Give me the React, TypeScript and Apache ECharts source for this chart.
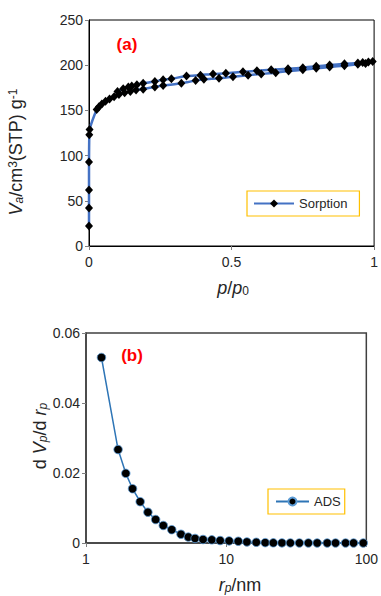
import React, { useEffect, useRef } from 'react';
import * as echarts from 'echarts';

// Panel (a): sorption isotherm (relative pressure p/p0, adsorbed volume)
const adsP = [0, 0, 0, 0, 0.001, 0.002, 0.027, 0.035, 0.045, 0.058, 0.072, 0.088, 0.105, 0.125, 0.145, 0.165, 0.19, 0.231, 0.26, 0.324, 0.374, 0.403, 0.456, 0.505, 0.558, 0.604, 0.655, 0.7, 0.75, 0.797, 0.844, 0.896, 0.943, 0.97, 0.995];
const adsV = [22, 42, 62, 93, 123, 129, 151, 154, 157, 160, 162.5, 165, 167.5, 169.5, 171, 172.5, 173.5, 176, 177.5, 180, 183, 184.4, 185.5, 187.3, 189, 190.3, 191.7, 193.5, 195, 196.5, 198, 199.5, 201, 202, 204];
const desP = [0.98, 0.96, 0.943, 0.896, 0.844, 0.797, 0.75, 0.698, 0.639, 0.589, 0.54, 0.48, 0.435, 0.391, 0.342, 0.289, 0.26, 0.231, 0.19, 0.168, 0.15, 0.138, 0.12, 0.1];
const desV = [203.5, 203, 202.5, 201.5, 200.2, 198.8, 197.2, 196, 195, 193.8, 192.8, 191, 190.3, 189, 188, 185, 184, 182, 180, 178.5, 177, 176, 174, 171];

// Panel (b): pore size distribution
const poreR = [1.289, 1.694, 1.923, 2.148, 2.435, 2.765, 3.14, 3.56, 4.09, 4.76, 5.37, 6.0, 6.84, 7.9, 9.06, 10.5, 12.2, 14.06, 16.4, 19.0, 21.7, 25.0, 28.7, 33.3, 38.6, 44.6, 52.6, 60.3, 71.1, 81.1, 95.1];
const dVdr = [0.053, 0.0267, 0.0199, 0.0155, 0.0118, 0.0088, 0.0067, 0.005, 0.0038, 0.0025, 0.0017, 0.0013, 0.001, 0.0009, 0.0007, 0.0006, 0.0005, 0.0003, 0.0002, 0.0001, 0.00005, 0.00003, 0.00002, 0.00001, 0.00001, 0, 0, 0, 0, 0, 0];

const FONT = '"Liberation Sans", Arial, Helvetica, sans-serif';
const TXT = '#262626';

const subStyle = (italic: boolean) => ({ fontSize: 12, fontFamily: FONT, fontStyle: italic ? 'italic' : 'normal', fill: TXT, verticalAlign: 'bottom' });
const supStyle = { fontSize: 12, fontFamily: FONT, fill: TXT, verticalAlign: 'top' };
const italStyle = { fontSize: 18, fontFamily: FONT, fontStyle: 'italic', fill: TXT };

export default function App() {
  const ref = useRef<HTMLDivElement>(null);
  useEffect(() => {
    const chart = echarts.init(ref.current!, null, { renderer: 'svg' });
    const isoData = [
      ...adsP.map((p, i) => [p, adsV[i]]),
      ...desP.map((p, i) => [p, desV[i]]),
    ];
    const psdData = poreR.map((r, i) => [r, dVdr[i]]);
    const axisLabel = { fontSize: 14, color: TXT, fontFamily: FONT };
    chart.setOption({
      animation: false,
      backgroundColor: '#ffffff',
      grid: [
        { left: 89, top: 20, width: 286, height: 226, show: true, borderColor: '#000', borderWidth: 1, backgroundColor: 'transparent' },
        { left: 86, top: 333, width: 281, height: 210, show: true, borderColor: '#404040', borderWidth: 1.5, backgroundColor: 'transparent' },
      ],
      xAxis: [
        {
          gridIndex: 0, type: 'value', min: 0, max: 1, interval: 0.5,
          axisLine: { show: true, onZero: false, lineStyle: { color: '#000', width: 1 } },
          axisTick: { show: true, length: 4, lineStyle: { color: '#808080' } },
          splitLine: { show: false },
          axisLabel: { ...axisLabel, margin: 9, formatter: (v: number) => String(v) },
        },
        {
          gridIndex: 1, type: 'log', logBase: 10, min: 1, max: 100,
          axisLine: { show: true, onZero: false, lineStyle: { color: '#404040', width: 1.5 } },
          axisTick: { show: true, length: 4, lineStyle: { color: '#808080' } },
          minorTick: { show: false },
          splitLine: { show: false },
          axisLabel: { ...axisLabel, margin: 9 },
        },
      ],
      yAxis: [
        {
          gridIndex: 0, type: 'value', min: 0, max: 250, interval: 50,
          axisLine: { show: true, onZero: false, lineStyle: { color: '#000', width: 1 } },
          axisTick: { show: true, length: 4, lineStyle: { color: '#808080' } },
          splitLine: { show: false },
          axisLabel: { ...axisLabel, margin: 6 },
        },
        {
          gridIndex: 1, type: 'value', min: 0, max: 0.06, interval: 0.02,
          axisLine: { show: true, onZero: false, lineStyle: { color: '#404040', width: 1.5 } },
          axisTick: { show: true, length: 4, lineStyle: { color: '#808080' } },
          splitLine: { show: false },
          axisLabel: { ...axisLabel, margin: 6, formatter: (v: number) => String(Math.round(v * 100) / 100) },
        },
      ],
      legend: [
        {
          data: ['Sorption'], left: 247, top: 191, itemWidth: 40, itemHeight: 10, itemGap: 5,
          padding: [6, 12, 6, 6], borderColor: '#FFC000', borderWidth: 1.2, backgroundColor: '#fff',
          textStyle: { fontSize: 13, color: TXT, fontFamily: FONT },
        },
        {
          data: ['ADS'], left: 268, top: 489, itemWidth: 33, itemHeight: 10, itemGap: 5,
          padding: [6, 4, 6, 7], borderColor: '#FFC000', borderWidth: 1.2, backgroundColor: '#fff',
          textStyle: { fontSize: 13, color: TXT, fontFamily: FONT },
        },
      ],
      series: [
        {
          type: 'line', name: 'Sorption', xAxisIndex: 0, yAxisIndex: 0, data: isoData,
          symbol: 'diamond', symbolSize: [8, 9], smooth: 0.2,
          lineStyle: { color: '#4472C4', width: 2.5 },
          itemStyle: { color: '#000' },
        },
        {
          type: 'line', name: 'ADS', xAxisIndex: 1, yAxisIndex: 1, data: psdData,
          symbol: 'circle', symbolSize: 8.5, smooth: false,
          lineStyle: { color: '#2E75B6', width: 1.5 },
          itemStyle: { color: '#000', borderColor: '#5B9BD5', borderWidth: 0.8 },
        },
      ],
      graphic: [
        { type: 'text', x: 127, y: 44, style: { text: '(a)', fill: '#FF0000', fontSize: 17, fontWeight: 'bold', fontFamily: FONT, align: 'center', verticalAlign: 'middle' } },
        { type: 'text', x: 132, y: 355, style: { text: '(b)', fill: '#FF0000', fontSize: 17, fontWeight: 'bold', fontFamily: FONT, align: 'center', verticalAlign: 'middle' } },
        {
          type: 'text', x: 16, y: 152, rotation: Math.PI / 2,
          style: {
            text: '{i|V}{sub|a}/cm{sup|3}(STP) g{sup|-1}', fontSize: 18, fontFamily: FONT, fill: TXT, align: 'center', verticalAlign: 'middle',
            rich: { i: italStyle, sub: subStyle(true), sup: supStyle },
          },
        },
        {
          type: 'text', x: 233, y: 288,
          style: {
            text: '{i|p}/{i|p}{sub|0}', fontSize: 18, fontFamily: FONT, fill: TXT, align: 'center', verticalAlign: 'middle',
            rich: { i: italStyle, sub: subStyle(false) },
          },
        },
        {
          type: 'text', x: 40, y: 436, rotation: Math.PI / 2,
          style: {
            text: 'd {i|V}{sub|p}/d {i|r}{sub|p}', fontSize: 18, fontFamily: FONT, fill: TXT, align: 'center', verticalAlign: 'middle',
            rich: { i: italStyle, sub: subStyle(true) },
          },
        },
        {
          type: 'text', x: 240, y: 585,
          style: {
            text: '{i|r}{sub|p}/nm', fontSize: 18, fontFamily: FONT, fill: TXT, align: 'center', verticalAlign: 'middle',
            rich: { i: italStyle, sub: subStyle(true) },
          },
        },
      ],
    });
    return () => chart.dispose();
  }, []);
  return <div ref={ref} style={{ position: 'absolute', left: 0, top: 0, width: 381, height: 596 }} />;
}
